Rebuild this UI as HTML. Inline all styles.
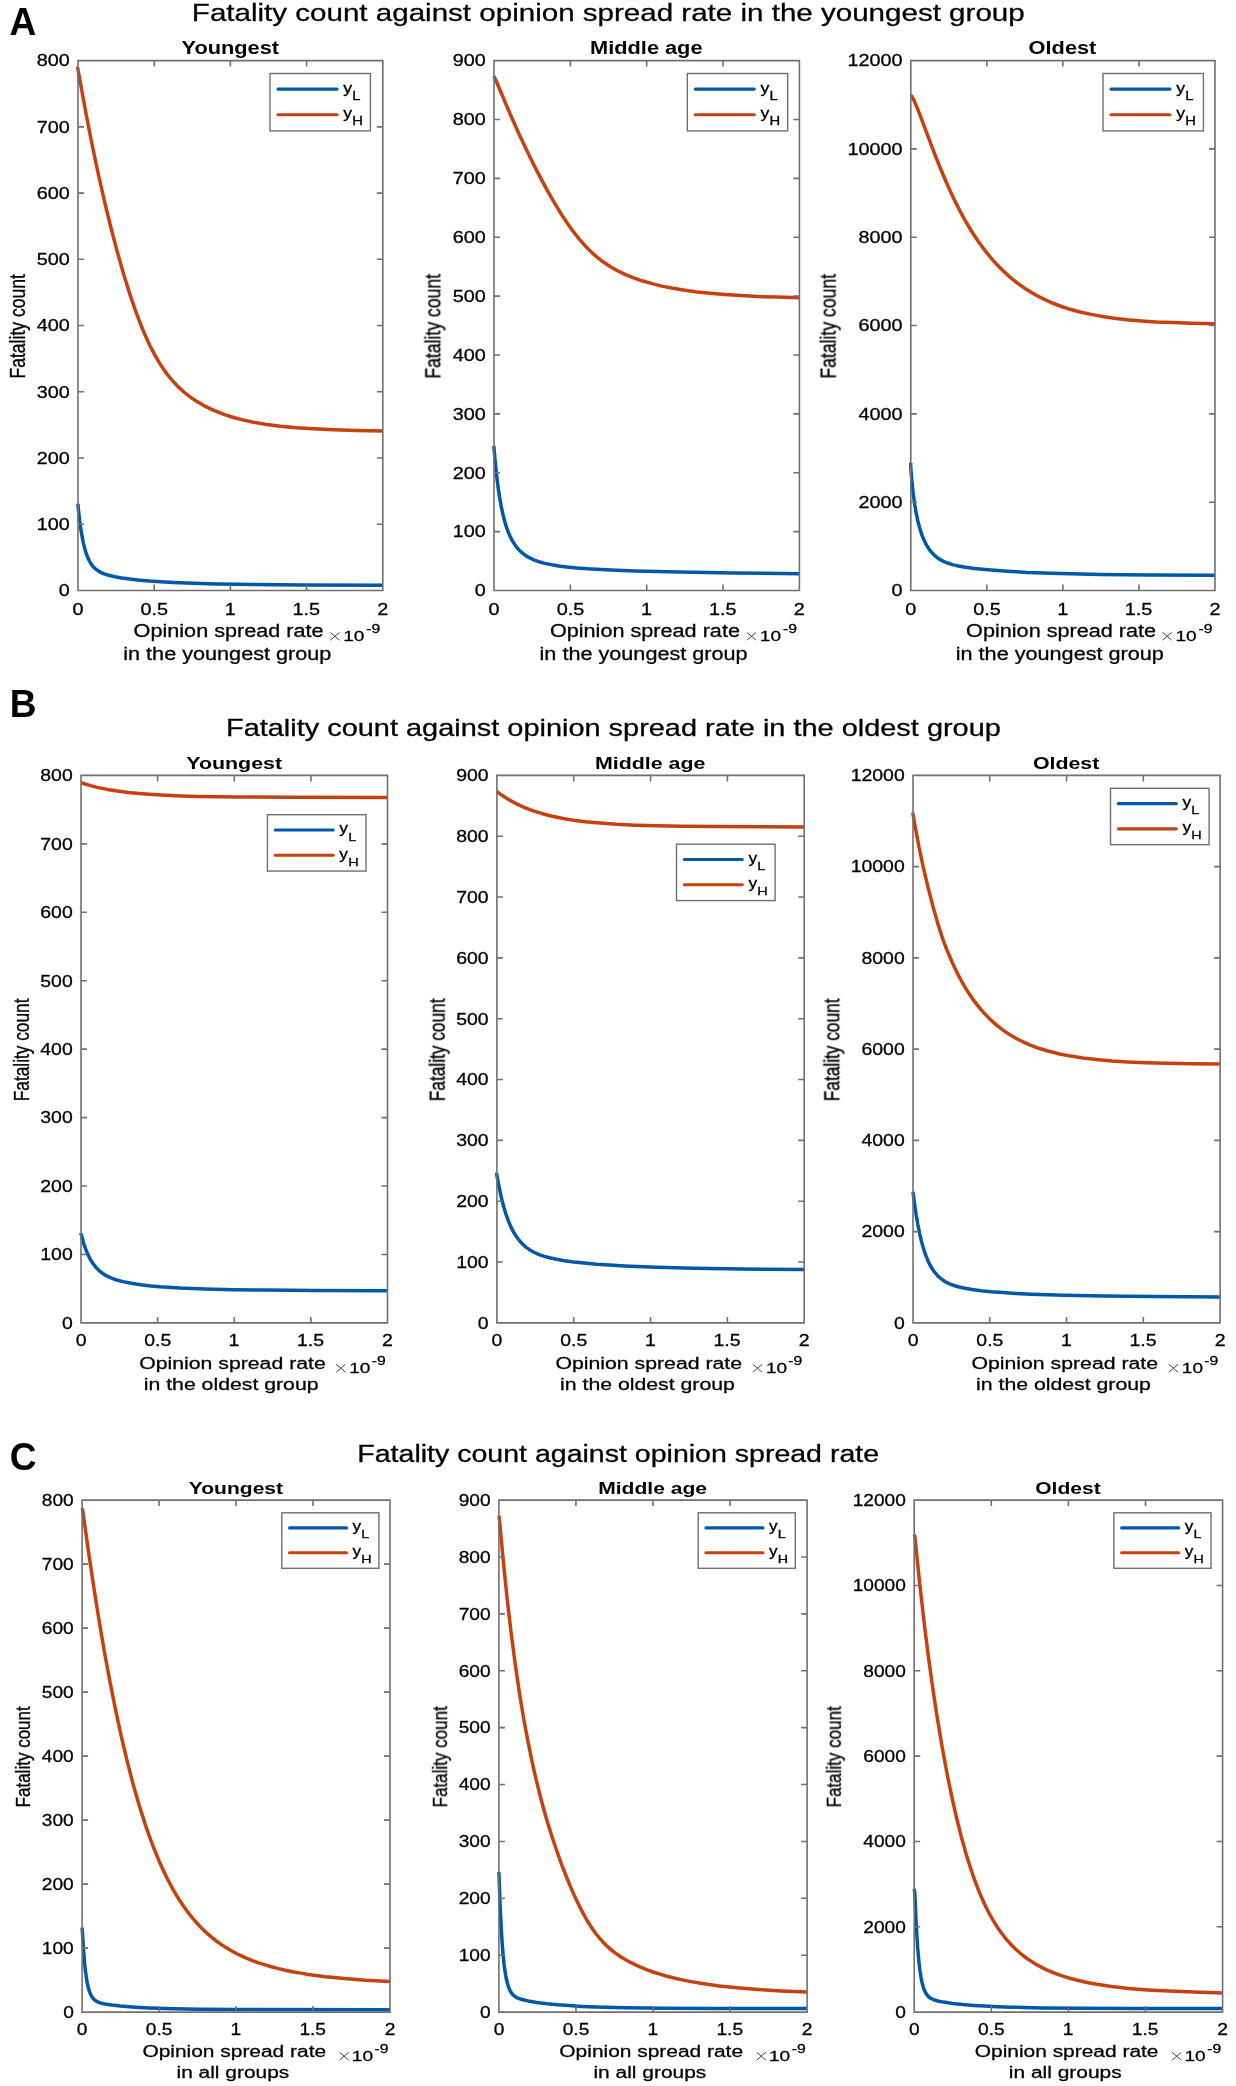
<!DOCTYPE html>
<html><head><meta charset="utf-8"><style>html,body{margin:0;padding:0;background:#fff;overflow:hidden;width:1236px;height:2086px;}svg{display:block}text{font-family:"Liberation Sans",sans-serif;}</style></head>
<body><svg width="1236" height="2086" viewBox="0 0 1236 2086">
<rect width="1236" height="2086" fill="#fff"/>
<clipPath id="clipA1"><rect x="76.0" y="60.6" width="306.8" height="529.9"/></clipPath>
<g clip-path="url(#clipA1)" fill="none" stroke-width="3.5" stroke-linejoin="round">
<path stroke="#C4420F" d="M78.0,67.0 77.7,68.0 86.3,115.2 92.3,145.7 98.5,175.0 104.5,201.4 110.5,226.0 117.5,252.6 123.5,273.7 129.5,293.1 135.5,310.7 140.5,324.0 143.5,331.3 146.5,338.2 149.5,344.7 152.5,350.6 155.5,356.2 158.5,361.4 161.5,366.1 164.5,370.6 167.5,374.6 170.5,378.4 173.5,381.8 177.5,386.1 180.5,388.9 184.5,392.5 188.5,395.7 192.5,398.6 196.5,401.2 200.5,403.6 204.5,405.9 209.5,408.4 214.5,410.7 219.5,412.7 224.5,414.6 230.5,416.5 235.5,418.0 241.5,419.6 253.5,422.2 266.5,424.4 280.5,426.2 296.5,427.7 313.5,428.8 333.5,429.7 356.5,430.4 382.8,430.9"/>
<path stroke="#0058A8" d="M78.0,503.8 78.0,505.9 79.6,520.2 80.8,528.9 82.2,537.2 83.4,543.1 84.8,548.7 86.4,553.9 88.0,558.1 89.8,561.7 91.6,564.6 93.8,567.3 95.8,569.2 98.8,571.4 101.8,572.9 104.8,574.1 108.8,575.3 114.8,576.7 121.8,578.0 129.8,579.1 139.8,580.2 149.8,581.1 160.8,581.8 172.8,582.5 186.8,583.1 215.8,583.9 252.8,584.4 302.8,584.9 382.8,585.3"/>
</g>
<path d="M78.0,60.6 H382.8 V590.5 H78.0 Z M78.0,590.50 h6.0 M382.8,590.50 h-6.0 M78.0,524.26 h6.0 M382.8,524.26 h-6.0 M78.0,458.02 h6.0 M382.8,458.02 h-6.0 M78.0,391.79 h6.0 M382.8,391.79 h-6.0 M78.0,325.55 h6.0 M382.8,325.55 h-6.0 M78.0,259.31 h6.0 M382.8,259.31 h-6.0 M78.0,193.08 h6.0 M382.8,193.08 h-6.0 M78.0,126.84 h6.0 M382.8,126.84 h-6.0 M78.0,60.60 h6.0 M382.8,60.60 h-6.0 M78.00,590.5 v-6.0 M78.00,60.6 v6.0 M154.20,590.5 v-6.0 M154.20,60.6 v6.0 M230.40,590.5 v-6.0 M230.40,60.6 v6.0 M306.60,590.5 v-6.0 M306.60,60.6 v6.0 M382.80,590.5 v-6.0 M382.80,60.6 v6.0" fill="none" stroke="#707070" stroke-width="1.6"/>
<path d="M330.3,632.4 l9.2,7.8 M339.5,632.4 l-9.2,7.8" stroke="#444" stroke-width="1.0" fill="none"/>
<rect x="270" y="73.5" width="100.40" height="57.40" fill="#fff" stroke="#707070" stroke-width="1.4"/>
<path d="M278.00,89.10 H337.00" stroke="#0058A8" stroke-width="3.1" stroke-linecap="round"/>
<path d="M278.00,114.80 H337.00" stroke="#C4420F" stroke-width="3.1" stroke-linecap="round"/>
<clipPath id="clipA2"><rect x="492.0" y="60.6" width="307.4" height="529.9"/></clipPath>
<g clip-path="url(#clipA2)" fill="none" stroke-width="3.5" stroke-linejoin="round">
<path stroke="#C4420F" d="M494.0,76.2 496.4,81.5 506.0,104.3 512.0,118.3 518.0,131.7 525.0,146.8 533.0,163.2 540.0,176.9 547.0,189.9 554.0,202.2 561.0,213.7 567.0,222.8 573.0,231.2 579.0,238.8 585.0,245.7 591.0,251.7 597.0,257.1 603.0,261.8 610.0,266.5 617.0,270.5 625.0,274.4 633.0,277.7 642.0,280.8 652.0,283.6 662.0,286.1 673.0,288.3 685.0,290.3 697.0,291.9 710.0,293.3 725.0,294.6 741.0,295.6 758.0,296.5 777.0,297.1 799.4,297.7"/>
<path stroke="#0058A8" d="M494.0,446.0 494.0,448.5 494.2,450.9 496.0,469.9 497.6,483.6 499.2,494.9 501.0,505.3 502.8,513.9 504.8,521.7 507.0,528.7 508.8,533.4 509.8,535.7 511.8,539.8 514.8,544.7 517.8,548.6 520.8,551.7 522.8,553.4 524.8,554.9 528.8,557.4 533.8,559.8 538.8,561.7 544.8,563.4 551.8,564.8 558.8,566.0 566.8,567.0 576.8,567.9 587.8,568.8 600.8,569.5 616.8,570.3 634.8,570.9 679.8,572.1 733.8,573.0 799.4,573.7"/>
</g>
<path d="M494.0,60.6 H799.4 V590.5 H494.0 Z M494.0,590.50 h6.0 M799.4,590.50 h-6.0 M494.0,531.62 h6.0 M799.4,531.62 h-6.0 M494.0,472.74 h6.0 M799.4,472.74 h-6.0 M494.0,413.87 h6.0 M799.4,413.87 h-6.0 M494.0,354.99 h6.0 M799.4,354.99 h-6.0 M494.0,296.11 h6.0 M799.4,296.11 h-6.0 M494.0,237.23 h6.0 M799.4,237.23 h-6.0 M494.0,178.36 h6.0 M799.4,178.36 h-6.0 M494.0,119.48 h6.0 M799.4,119.48 h-6.0 M494.0,60.60 h6.0 M799.4,60.60 h-6.0 M494.00,590.5 v-6.0 M494.00,60.6 v6.0 M570.35,590.5 v-6.0 M570.35,60.6 v6.0 M646.70,590.5 v-6.0 M646.70,60.6 v6.0 M723.05,590.5 v-6.0 M723.05,60.6 v6.0 M799.40,590.5 v-6.0 M799.40,60.6 v6.0" fill="none" stroke="#707070" stroke-width="1.6"/>
<path d="M746.9,632.4 l9.2,7.8 M756.1,632.4 l-9.2,7.8" stroke="#444" stroke-width="1.0" fill="none"/>
<rect x="687.3" y="73.5" width="100.40" height="57.40" fill="#fff" stroke="#707070" stroke-width="1.4"/>
<path d="M695.30,89.10 H754.30" stroke="#0058A8" stroke-width="3.1" stroke-linecap="round"/>
<path d="M695.30,114.80 H754.30" stroke="#C4420F" stroke-width="3.1" stroke-linecap="round"/>
<clipPath id="clipA3"><rect x="908.8" y="60.6" width="306.20000000000005" height="529.9"/></clipPath>
<g clip-path="url(#clipA3)" fill="none" stroke-width="3.5" stroke-linejoin="round">
<path stroke="#C4420F" d="M910.8,95.5 911.3,95.7 911.5,95.9 912.9,98.3 914.7,102.0 916.9,107.2 920.9,117.4 931.1,144.6 936.1,157.6 941.1,170.0 946.1,181.8 951.1,193.0 955.1,201.4 960.1,211.2 965.1,220.4 971.1,230.5 977.1,239.7 983.1,248.1 990.1,256.9 997.1,264.8 1004.1,271.8 1011.1,278.1 1018.1,283.6 1026.1,289.2 1034.1,294.1 1042.1,298.3 1051.1,302.5 1060.1,306.0 1070.1,309.3 1080.1,312.0 1091.1,314.4 1102.1,316.4 1114.1,318.2 1127.1,319.7 1141.1,320.9 1156.1,321.9 1173.1,322.6 1192.1,323.2 1215.0,323.7"/>
<path stroke="#0058A8" d="M910.8,462.9 910.6,465.7 911.8,480.2 913.2,493.4 914.8,505.1 916.4,514.2 918.0,521.7 919.8,528.4 921.8,534.6 924.0,540.0 926.4,544.9 929.4,549.6 932.4,553.3 935.4,556.2 937.4,557.7 939.4,559.1 943.4,561.3 947.4,563.0 952.4,564.6 958.4,566.0 965.4,567.3 974.4,568.5 985.4,569.6 997.4,570.6 1011.4,571.5 1027.4,572.4 1060.4,573.5 1100.4,574.4 1149.4,574.9 1215.0,575.2"/>
</g>
<path d="M910.8,60.6 H1215.0 V590.5 H910.8 Z M910.8,590.50 h6.0 M1215.0,590.50 h-6.0 M910.8,502.18 h6.0 M1215.0,502.18 h-6.0 M910.8,413.87 h6.0 M1215.0,413.87 h-6.0 M910.8,325.55 h6.0 M1215.0,325.55 h-6.0 M910.8,237.23 h6.0 M1215.0,237.23 h-6.0 M910.8,148.92 h6.0 M1215.0,148.92 h-6.0 M910.8,60.60 h6.0 M1215.0,60.60 h-6.0 M910.80,590.5 v-6.0 M910.80,60.6 v6.0 M986.85,590.5 v-6.0 M986.85,60.6 v6.0 M1062.90,590.5 v-6.0 M1062.90,60.6 v6.0 M1138.95,590.5 v-6.0 M1138.95,60.6 v6.0 M1215.00,590.5 v-6.0 M1215.00,60.6 v6.0" fill="none" stroke="#707070" stroke-width="1.6"/>
<path d="M1162.5,632.4 l9.2,7.8 M1171.7,632.4 l-9.2,7.8" stroke="#444" stroke-width="1.0" fill="none"/>
<rect x="1103" y="73.5" width="100.40" height="57.40" fill="#fff" stroke="#707070" stroke-width="1.4"/>
<path d="M1111.00,89.10 H1170.00" stroke="#0058A8" stroke-width="3.1" stroke-linecap="round"/>
<path d="M1111.00,114.80 H1170.00" stroke="#C4420F" stroke-width="3.1" stroke-linecap="round"/>
<clipPath id="clipB1"><rect x="79.0" y="775.4" width="308.5" height="547.5000000000001"/></clipPath>
<g clip-path="url(#clipB1)" fill="none" stroke-width="3.5" stroke-linejoin="round">
<path stroke="#C4420F" d="M81.0,782.9 81.6,783.0 90.6,785.6 98.4,787.6 107.4,789.4 117.4,791.0 128.4,792.4 139.4,793.5 152.4,794.5 166.4,795.3 181.4,795.9 197.4,796.4 237.4,797.0 292.4,797.3 387.5,797.4"/>
<path stroke="#0058A8" d="M81.0,1232.9 81.0,1233.7 81.4,1235.3 83.6,1243.1 85.6,1248.9 87.6,1253.8 89.6,1258.0 91.8,1261.8 94.2,1265.2 96.8,1268.3 99.8,1271.2 102.8,1273.5 105.8,1275.4 109.8,1277.4 113.8,1279.0 117.8,1280.3 122.8,1281.6 128.8,1282.8 135.8,1284.0 142.8,1285.0 150.8,1285.9 159.8,1286.7 179.8,1288.0 204.8,1289.0 232.8,1289.7 267.8,1290.1 314.8,1290.4 387.5,1290.7"/>
</g>
<path d="M81.0,775.4 H387.5 V1322.9 H81.0 Z M81.0,1322.90 h6.0 M387.5,1322.90 h-6.0 M81.0,1254.46 h6.0 M387.5,1254.46 h-6.0 M81.0,1186.03 h6.0 M387.5,1186.03 h-6.0 M81.0,1117.59 h6.0 M387.5,1117.59 h-6.0 M81.0,1049.15 h6.0 M387.5,1049.15 h-6.0 M81.0,980.71 h6.0 M387.5,980.71 h-6.0 M81.0,912.27 h6.0 M387.5,912.27 h-6.0 M81.0,843.84 h6.0 M387.5,843.84 h-6.0 M81.0,775.40 h6.0 M387.5,775.40 h-6.0 M81.00,1322.9 v-6.0 M81.00,775.4 v6.0 M157.62,1322.9 v-6.0 M157.62,775.4 v6.0 M234.25,1322.9 v-6.0 M234.25,775.4 v6.0 M310.88,1322.9 v-6.0 M310.88,775.4 v6.0 M387.50,1322.9 v-6.0 M387.50,775.4 v6.0" fill="none" stroke="#707070" stroke-width="1.6"/>
<path d="M336.2,1364.4 l9.2,7.8 M345.4,1364.4 l-9.2,7.8" stroke="#444" stroke-width="1.0" fill="none"/>
<rect x="267.4" y="814.7" width="98.59" height="56.37" fill="#fff" stroke="#707070" stroke-width="1.4"/>
<path d="M275.26,830.02 H333.19" stroke="#0058A8" stroke-width="3.1" stroke-linecap="round"/>
<path d="M275.26,855.26 H333.19" stroke="#C4420F" stroke-width="3.1" stroke-linecap="round"/>
<clipPath id="clipB2"><rect x="494.9" y="775.4" width="309.30000000000007" height="547.5000000000001"/></clipPath>
<g clip-path="url(#clipB2)" fill="none" stroke-width="3.5" stroke-linejoin="round">
<path stroke="#C4420F" d="M496.9,791.8 497.4,792.0 502.0,795.3 506.6,798.2 510.8,800.7 515.2,803.1 519.2,805.1 524.2,807.3 529.2,809.3 534.2,811.1 539.2,812.7 545.2,814.5 551.2,816.0 557.2,817.3 563.2,818.5 570.2,819.7 577.2,820.7 585.2,821.7 600.2,823.1 616.2,824.3 635.2,825.2 657.2,825.8 682.2,826.3 713.2,826.6 804.2,826.9"/>
<path stroke="#0058A8" d="M496.9,1172.9 496.7,1174.1 499.1,1187.2 501.3,1197.4 503.7,1206.7 505.9,1214.0 508.3,1220.7 510.9,1226.9 513.5,1232.0 516.5,1236.8 519.5,1240.8 522.5,1244.1 525.5,1246.8 529.5,1249.7 533.5,1252.0 538.5,1254.3 543.5,1256.1 549.5,1257.8 556.5,1259.3 564.5,1260.7 573.5,1261.9 584.5,1263.1 596.5,1264.2 609.5,1265.1 624.5,1266.0 656.5,1267.3 694.5,1268.3 741.5,1269.0 804.2,1269.5"/>
</g>
<path d="M496.9,775.4 H804.2 V1322.9 H496.9 Z M496.9,1322.90 h6.0 M804.2,1322.90 h-6.0 M496.9,1262.07 h6.0 M804.2,1262.07 h-6.0 M496.9,1201.23 h6.0 M804.2,1201.23 h-6.0 M496.9,1140.40 h6.0 M804.2,1140.40 h-6.0 M496.9,1079.57 h6.0 M804.2,1079.57 h-6.0 M496.9,1018.73 h6.0 M804.2,1018.73 h-6.0 M496.9,957.90 h6.0 M804.2,957.90 h-6.0 M496.9,897.07 h6.0 M804.2,897.07 h-6.0 M496.9,836.23 h6.0 M804.2,836.23 h-6.0 M496.9,775.40 h6.0 M804.2,775.40 h-6.0 M496.90,1322.9 v-6.0 M496.90,775.4 v6.0 M573.73,1322.9 v-6.0 M573.73,775.4 v6.0 M650.55,1322.9 v-6.0 M650.55,775.4 v6.0 M727.38,1322.9 v-6.0 M727.38,775.4 v6.0 M804.20,1322.9 v-6.0 M804.20,775.4 v6.0" fill="none" stroke="#707070" stroke-width="1.6"/>
<path d="M752.9,1364.4 l9.2,7.8 M762.1,1364.4 l-9.2,7.8" stroke="#444" stroke-width="1.0" fill="none"/>
<rect x="676.5" y="844.2" width="98.59" height="56.37" fill="#fff" stroke="#707070" stroke-width="1.4"/>
<path d="M684.36,859.52 H742.29" stroke="#0058A8" stroke-width="3.1" stroke-linecap="round"/>
<path d="M684.36,884.76 H742.29" stroke="#C4420F" stroke-width="3.1" stroke-linecap="round"/>
<clipPath id="clipB3"><rect x="911.0" y="775.4" width="309.0999999999999" height="547.5000000000001"/></clipPath>
<g clip-path="url(#clipB3)" fill="none" stroke-width="3.5" stroke-linejoin="round">
<path stroke="#C4420F" d="M913.0,812.7 913.0,814.0 914.6,823.6 919.0,847.0 923.2,866.8 927.8,886.3 932.8,905.8 937.8,923.6 941.8,936.1 943.8,941.8 946.8,949.6 951.8,961.5 954.8,968.0 957.8,974.1 960.8,979.8 963.8,985.1 966.8,990.1 969.8,994.7 972.8,999.1 975.8,1003.1 978.8,1007.0 982.8,1011.7 985.8,1014.9 989.8,1019.0 993.8,1022.7 997.8,1026.1 1004.8,1031.4 1008.8,1034.1 1012.8,1036.5 1016.8,1038.8 1020.8,1040.8 1024.8,1042.7 1029.8,1044.9 1038.8,1048.3 1048.8,1051.3 1059.8,1054.0 1070.8,1056.1 1082.8,1058.0 1096.8,1059.6 1111.8,1060.9 1127.8,1061.9 1145.8,1062.7 1166.8,1063.3 1190.8,1063.7 1220.1,1064.0"/>
<path stroke="#0058A8" d="M913.0,1191.7 914.6,1204.2 916.2,1215.0 917.8,1224.3 919.6,1233.3 921.4,1241.1 923.4,1248.3 925.6,1254.9 927.8,1260.4 930.0,1265.0 933.0,1270.0 935.0,1272.7 938.0,1276.1 941.0,1278.7 943.0,1280.2 945.0,1281.5 949.0,1283.6 954.0,1285.5 959.0,1287.0 965.0,1288.3 972.0,1289.5 981.0,1290.7 991.0,1291.7 1003.0,1292.6 1016.0,1293.4 1031.0,1294.2 1064.0,1295.3 1104.0,1296.0 1154.0,1296.6 1220.1,1296.9"/>
</g>
<path d="M913.0,775.4 H1220.1 V1322.9 H913.0 Z M913.0,1322.90 h6.0 M1220.1,1322.90 h-6.0 M913.0,1231.65 h6.0 M1220.1,1231.65 h-6.0 M913.0,1140.40 h6.0 M1220.1,1140.40 h-6.0 M913.0,1049.15 h6.0 M1220.1,1049.15 h-6.0 M913.0,957.90 h6.0 M1220.1,957.90 h-6.0 M913.0,866.65 h6.0 M1220.1,866.65 h-6.0 M913.0,775.40 h6.0 M1220.1,775.40 h-6.0 M913.00,1322.9 v-6.0 M913.00,775.4 v6.0 M989.77,1322.9 v-6.0 M989.77,775.4 v6.0 M1066.55,1322.9 v-6.0 M1066.55,775.4 v6.0 M1143.32,1322.9 v-6.0 M1143.32,775.4 v6.0 M1220.10,1322.9 v-6.0 M1220.10,775.4 v6.0" fill="none" stroke="#707070" stroke-width="1.6"/>
<path d="M1168.8,1364.4 l9.2,7.8 M1178.0,1364.4 l-9.2,7.8" stroke="#444" stroke-width="1.0" fill="none"/>
<rect x="1110.5" y="788.3" width="98.59" height="56.37" fill="#fff" stroke="#707070" stroke-width="1.4"/>
<path d="M1118.36,803.62 H1176.29" stroke="#0058A8" stroke-width="3.1" stroke-linecap="round"/>
<path d="M1118.36,828.86 H1176.29" stroke="#C4420F" stroke-width="3.1" stroke-linecap="round"/>
<clipPath id="clipC1"><rect x="80.1" y="1500.1" width="309.9" height="512.0"/></clipPath>
<g clip-path="url(#clipC1)" fill="none" stroke-width="3.5" stroke-linejoin="round">
<path stroke="#C4420F" d="M82.1,1508.2 82.6,1509.7 88.6,1552.6 94.4,1591.3 99.4,1622.5 104.4,1651.7 109.4,1678.9 115.4,1709.2 121.4,1736.9 127.4,1762.2 133.4,1785.3 139.4,1806.1 145.4,1824.9 148.4,1833.6 152.4,1844.5 158.4,1859.4 161.4,1866.3 165.4,1874.8 168.4,1880.8 172.4,1888.3 176.4,1895.2 180.4,1901.6 183.4,1906.0 187.4,1911.6 191.4,1916.7 195.4,1921.5 199.4,1925.8 203.4,1929.9 207.4,1933.6 212.4,1937.9 216.4,1941.0 221.4,1944.6 226.4,1947.8 231.4,1950.8 236.4,1953.5 241.4,1955.9 246.4,1958.2 252.4,1960.6 258.4,1962.8 264.4,1964.7 271.4,1966.8 278.4,1968.6 285.4,1970.2 292.4,1971.7 300.4,1973.1 308.4,1974.4 325.4,1976.7 344.4,1978.6 365.4,1980.2 390.0,1981.5"/>
<path stroke="#0058A8" d="M82.1,1927.6 83.6,1950.9 84.8,1965.0 85.6,1972.1 86.4,1977.9 87.2,1982.6 88.2,1987.2 89.2,1990.7 90.4,1993.9 91.6,1996.3 93.0,1998.3 94.6,2000.0 96.4,2001.2 98.2,2002.1 101.2,2003.2 106.2,2004.2 112.2,2005.1 120.2,2006.0 129.2,2006.8 139.2,2007.5 149.2,2008.0 173.2,2008.8 200.2,2009.2 237.2,2009.5 390.0,2009.8"/>
</g>
<path d="M82.1,1500.1 H390.0 V2012.1 H82.1 Z M82.1,2012.10 h6.0 M390.0,2012.10 h-6.0 M82.1,1948.10 h6.0 M390.0,1948.10 h-6.0 M82.1,1884.10 h6.0 M390.0,1884.10 h-6.0 M82.1,1820.10 h6.0 M390.0,1820.10 h-6.0 M82.1,1756.10 h6.0 M390.0,1756.10 h-6.0 M82.1,1692.10 h6.0 M390.0,1692.10 h-6.0 M82.1,1628.10 h6.0 M390.0,1628.10 h-6.0 M82.1,1564.10 h6.0 M390.0,1564.10 h-6.0 M82.1,1500.10 h6.0 M390.0,1500.10 h-6.0 M82.10,2012.1 v-6.0 M82.10,1500.1 v6.0 M159.07,2012.1 v-6.0 M159.07,1500.1 v6.0 M236.05,2012.1 v-6.0 M236.05,1500.1 v6.0 M313.02,2012.1 v-6.0 M313.02,1500.1 v6.0 M390.00,2012.1 v-6.0 M390.00,1500.1 v6.0" fill="none" stroke="#707070" stroke-width="1.6"/>
<path d="M339.5,2052.3 l9.2,7.8 M348.7,2052.3 l-9.2,7.8" stroke="#444" stroke-width="1.0" fill="none"/>
<rect x="281.8" y="1512.8" width="97.09" height="55.51" fill="#fff" stroke="#707070" stroke-width="1.4"/>
<path d="M289.54,1527.89 H346.59" stroke="#0058A8" stroke-width="3.1" stroke-linecap="round"/>
<path d="M289.54,1552.74 H346.59" stroke="#C4420F" stroke-width="3.1" stroke-linecap="round"/>
<clipPath id="clipC2"><rect x="496.9" y="1500.1" width="310.20000000000005" height="512.0"/></clipPath>
<g clip-path="url(#clipC2)" fill="none" stroke-width="3.5" stroke-linejoin="round">
<path stroke="#C4420F" d="M498.9,1515.5 499.3,1517.8 503.1,1559.4 507.1,1598.2 511.1,1632.6 515.1,1663.3 519.1,1690.7 521.1,1703.3 524.1,1720.9 528.1,1742.4 533.1,1766.4 536.1,1779.4 539.1,1791.7 542.1,1803.2 545.1,1814.0 548.1,1824.2 552.1,1837.0 555.1,1846.0 559.1,1857.5 563.1,1868.3 567.1,1878.5 571.1,1888.2 575.1,1897.2 579.1,1905.6 583.1,1913.4 587.1,1920.5 590.1,1925.3 593.1,1929.8 596.1,1934.0 599.1,1937.7 603.1,1942.2 606.1,1945.3 610.1,1948.9 613.1,1951.4 617.1,1954.3 621.1,1957.0 626.1,1960.0 631.1,1962.7 636.1,1965.1 641.1,1967.4 647.1,1969.8 653.1,1972.0 660.1,1974.2 666.1,1976.0 673.1,1977.8 680.1,1979.4 687.1,1980.9 702.1,1983.5 719.1,1985.9 737.1,1987.8 758.1,1989.5 781.1,1990.9 807.1,1992.1"/>
<path stroke="#0058A8" d="M498.9,1871.9 500.1,1905.4 501.5,1933.2 502.3,1945.1 503.1,1954.8 504.1,1964.4 505.1,1971.9 506.1,1977.7 507.3,1983.0 508.5,1986.9 509.9,1990.3 511.5,1993.0 513.3,1995.1 514.9,1996.4 515.9,1997.1 517.9,1998.1 521.9,1999.5 527.9,2000.9 536.9,2002.4 546.9,2003.7 557.9,2004.8 568.9,2005.6 581.9,2006.4 595.9,2007.0 625.9,2007.7 663.9,2008.2 716.9,2008.4 807.1,2008.5"/>
</g>
<path d="M498.9,1500.1 H807.1 V2012.1 H498.9 Z M498.9,2012.10 h6.0 M807.1,2012.10 h-6.0 M498.9,1955.21 h6.0 M807.1,1955.21 h-6.0 M498.9,1898.32 h6.0 M807.1,1898.32 h-6.0 M498.9,1841.43 h6.0 M807.1,1841.43 h-6.0 M498.9,1784.54 h6.0 M807.1,1784.54 h-6.0 M498.9,1727.66 h6.0 M807.1,1727.66 h-6.0 M498.9,1670.77 h6.0 M807.1,1670.77 h-6.0 M498.9,1613.88 h6.0 M807.1,1613.88 h-6.0 M498.9,1556.99 h6.0 M807.1,1556.99 h-6.0 M498.9,1500.10 h6.0 M807.1,1500.10 h-6.0 M498.90,2012.1 v-6.0 M498.90,1500.1 v6.0 M575.95,2012.1 v-6.0 M575.95,1500.1 v6.0 M653.00,2012.1 v-6.0 M653.00,1500.1 v6.0 M730.05,2012.1 v-6.0 M730.05,1500.1 v6.0 M807.10,2012.1 v-6.0 M807.10,1500.1 v6.0" fill="none" stroke="#707070" stroke-width="1.6"/>
<path d="M756.6,2052.3 l9.2,7.8 M765.8,2052.3 l-9.2,7.8" stroke="#444" stroke-width="1.0" fill="none"/>
<rect x="698.2" y="1512.8" width="97.09" height="55.51" fill="#fff" stroke="#707070" stroke-width="1.4"/>
<path d="M705.94,1527.89 H762.99" stroke="#0058A8" stroke-width="3.1" stroke-linecap="round"/>
<path d="M705.94,1552.74 H762.99" stroke="#C4420F" stroke-width="3.1" stroke-linecap="round"/>
<clipPath id="clipC3"><rect x="912.2" y="1500.1" width="310.39999999999986" height="512.0"/></clipPath>
<g clip-path="url(#clipC3)" fill="none" stroke-width="3.5" stroke-linejoin="round">
<path stroke="#C4420F" d="M914.2,1534.5 914.9,1536.6 919.5,1581.8 924.5,1625.6 928.5,1657.3 932.7,1687.7 936.7,1714.3 941.7,1744.5 946.7,1771.8 951.7,1796.4 956.7,1818.5 961.7,1838.3 966.7,1855.9 969.7,1865.6 972.7,1874.6 975.7,1882.9 978.7,1890.6 981.7,1897.8 984.7,1904.4 987.7,1910.5 990.7,1916.2 993.7,1921.4 997.7,1927.7 1000.7,1932.0 1004.7,1937.3 1007.7,1940.9 1011.7,1945.2 1015.7,1949.2 1019.7,1952.8 1023.7,1956.0 1027.7,1959.0 1031.7,1961.6 1036.7,1964.7 1041.7,1967.4 1046.7,1969.8 1051.7,1972.0 1057.7,1974.3 1063.7,1976.4 1069.7,1978.2 1075.7,1979.8 1082.7,1981.5 1089.7,1983.0 1096.7,1984.3 1111.7,1986.5 1128.7,1988.4 1147.7,1989.9 1168.7,1991.1 1193.7,1992.1 1222.6,1992.9"/>
<path stroke="#0058A8" d="M914.2,1888.7 914.9,1894.3 916.3,1926.1 917.7,1948.2 919.1,1963.6 919.9,1970.2 920.9,1976.8 921.9,1981.9 923.1,1986.5 924.3,1990.0 925.7,1993.0 927.3,1995.3 929.1,1997.2 930.7,1998.3 933.7,1999.8 937.7,2001.0 943.7,2002.1 952.7,2003.4 962.7,2004.5 973.7,2005.4 984.7,2006.1 997.7,2006.7 1011.7,2007.2 1041.7,2007.9 1080.7,2008.3 1133.7,2008.5 1222.6,2008.6"/>
</g>
<path d="M914.2,1500.1 H1222.6 V2012.1 H914.2 Z M914.2,2012.10 h6.0 M1222.6,2012.10 h-6.0 M914.2,1926.77 h6.0 M1222.6,1926.77 h-6.0 M914.2,1841.43 h6.0 M1222.6,1841.43 h-6.0 M914.2,1756.10 h6.0 M1222.6,1756.10 h-6.0 M914.2,1670.77 h6.0 M1222.6,1670.77 h-6.0 M914.2,1585.43 h6.0 M1222.6,1585.43 h-6.0 M914.2,1500.10 h6.0 M1222.6,1500.10 h-6.0 M914.20,2012.1 v-6.0 M914.20,1500.1 v6.0 M991.30,2012.1 v-6.0 M991.30,1500.1 v6.0 M1068.40,2012.1 v-6.0 M1068.40,1500.1 v6.0 M1145.50,2012.1 v-6.0 M1145.50,1500.1 v6.0 M1222.60,2012.1 v-6.0 M1222.60,1500.1 v6.0" fill="none" stroke="#707070" stroke-width="1.6"/>
<path d="M1172.1,2052.3 l9.2,7.8 M1181.3,2052.3 l-9.2,7.8" stroke="#444" stroke-width="1.0" fill="none"/>
<rect x="1113.9" y="1512.8" width="97.09" height="55.51" fill="#fff" stroke="#707070" stroke-width="1.4"/>
<path d="M1121.64,1527.89 H1178.69" stroke="#0058A8" stroke-width="3.1" stroke-linecap="round"/>
<path d="M1121.64,1552.74 H1178.69" stroke="#C4420F" stroke-width="3.1" stroke-linecap="round"/>
<g style="will-change:transform">
<text transform="translate(191.83,21.00) scale(1.2219,1)" font-size="24.2" fill="#000" stroke="#000" stroke-width="0.28">Fatality count against opinion spread rate in the youngest group</text>
<text transform="translate(9.46,34.70) scale(0.97,1)" font-size="38.3" font-weight="bold" fill="#000">A</text>
<text transform="translate(58.70,596.30) scale(1.23,1)" font-size="16.1" fill="#000" stroke="#000" stroke-width="0.28">0</text>
<text transform="translate(36.68,530.06) scale(1.23,1)" font-size="16.1" fill="#000" stroke="#000" stroke-width="0.28">100</text>
<text transform="translate(36.68,463.82) scale(1.23,1)" font-size="16.1" fill="#000" stroke="#000" stroke-width="0.28">200</text>
<text transform="translate(36.68,397.59) scale(1.23,1)" font-size="16.1" fill="#000" stroke="#000" stroke-width="0.28">300</text>
<text transform="translate(36.68,331.35) scale(1.23,1)" font-size="16.1" fill="#000" stroke="#000" stroke-width="0.28">400</text>
<text transform="translate(36.68,265.11) scale(1.23,1)" font-size="16.1" fill="#000" stroke="#000" stroke-width="0.28">500</text>
<text transform="translate(36.68,198.88) scale(1.23,1)" font-size="16.1" fill="#000" stroke="#000" stroke-width="0.28">600</text>
<text transform="translate(36.68,132.64) scale(1.23,1)" font-size="16.1" fill="#000" stroke="#000" stroke-width="0.28">700</text>
<text transform="translate(36.68,66.40) scale(1.23,1)" font-size="16.1" fill="#000" stroke="#000" stroke-width="0.28">800</text>
<text transform="translate(72.55,614.90) scale(1.23,1)" font-size="16.1" fill="#000" stroke="#000" stroke-width="0.28">0</text>
<text transform="translate(140.50,614.90) scale(1.23,1)" font-size="16.1" fill="#000" stroke="#000" stroke-width="0.28">0.5</text>
<text transform="translate(224.66,614.90) scale(1.23,1)" font-size="16.1" fill="#000" stroke="#000" stroke-width="0.28">1</text>
<text transform="translate(292.50,614.90) scale(1.23,1)" font-size="16.1" fill="#000" stroke="#000" stroke-width="0.28">1.5</text>
<text transform="translate(377.26,614.90) scale(1.23,1)" font-size="16.1" fill="#000" stroke="#000" stroke-width="0.28">2</text>
<text transform="translate(181.54,54.40) scale(1.23,1)" font-size="17.7" font-weight="bold" fill="#000">Youngest</text>
<text transform="translate(133.59,637.10) scale(1.23,1)" font-size="17.6" fill="#000" stroke="#000" stroke-width="0.28">Opinion spread rate</text>
<text transform="translate(123.23,659.60) scale(1.23,1)" font-size="17.6" fill="#000" stroke="#000" stroke-width="0.28">in the youngest group</text>
<text transform="translate(24.50,378.61) scale(1.23,1) rotate(-90)" font-size="17.6" fill="#000" stroke="#000" stroke-width="0.28">Fatality count</text>
<text transform="translate(343.27,641.00) scale(1.23,1)" font-size="15.5" fill="#000" stroke="#000" stroke-width="0.28">10</text>
<text transform="translate(366.37,633.40) scale(1.23,1)" font-size="12.8" fill="#000" stroke="#000" stroke-width="0.28">-9</text>
<text transform="translate(343.20,92.50) scale(1.23,1)" font-size="14.4" fill="#000" stroke="#000" stroke-width="0.28">y</text>
<text transform="translate(352.22,99.80) scale(1.23,1)" font-size="12.0" fill="#000" stroke="#000" stroke-width="0.28">L</text>
<text transform="translate(343.20,118.40) scale(1.23,1)" font-size="14.4" fill="#000" stroke="#000" stroke-width="0.28">y</text>
<text transform="translate(352.22,125.40) scale(1.23,1)" font-size="12.0" fill="#000" stroke="#000" stroke-width="0.28">H</text>
<text transform="translate(474.70,596.30) scale(1.23,1)" font-size="16.1" fill="#000" stroke="#000" stroke-width="0.28">0</text>
<text transform="translate(452.68,537.42) scale(1.23,1)" font-size="16.1" fill="#000" stroke="#000" stroke-width="0.28">100</text>
<text transform="translate(452.68,478.54) scale(1.23,1)" font-size="16.1" fill="#000" stroke="#000" stroke-width="0.28">200</text>
<text transform="translate(452.68,419.67) scale(1.23,1)" font-size="16.1" fill="#000" stroke="#000" stroke-width="0.28">300</text>
<text transform="translate(452.68,360.79) scale(1.23,1)" font-size="16.1" fill="#000" stroke="#000" stroke-width="0.28">400</text>
<text transform="translate(452.68,301.91) scale(1.23,1)" font-size="16.1" fill="#000" stroke="#000" stroke-width="0.28">500</text>
<text transform="translate(452.68,243.03) scale(1.23,1)" font-size="16.1" fill="#000" stroke="#000" stroke-width="0.28">600</text>
<text transform="translate(452.68,184.16) scale(1.23,1)" font-size="16.1" fill="#000" stroke="#000" stroke-width="0.28">700</text>
<text transform="translate(452.68,125.28) scale(1.23,1)" font-size="16.1" fill="#000" stroke="#000" stroke-width="0.28">800</text>
<text transform="translate(452.68,66.40) scale(1.23,1)" font-size="16.1" fill="#000" stroke="#000" stroke-width="0.28">900</text>
<text transform="translate(488.55,614.90) scale(1.23,1)" font-size="16.1" fill="#000" stroke="#000" stroke-width="0.28">0</text>
<text transform="translate(556.65,614.90) scale(1.23,1)" font-size="16.1" fill="#000" stroke="#000" stroke-width="0.28">0.5</text>
<text transform="translate(640.96,614.90) scale(1.23,1)" font-size="16.1" fill="#000" stroke="#000" stroke-width="0.28">1</text>
<text transform="translate(708.95,614.90) scale(1.23,1)" font-size="16.1" fill="#000" stroke="#000" stroke-width="0.28">1.5</text>
<text transform="translate(793.86,614.90) scale(1.23,1)" font-size="16.1" fill="#000" stroke="#000" stroke-width="0.28">2</text>
<text transform="translate(590.08,54.40) scale(1.23,1)" font-size="17.7" font-weight="bold" fill="#000">Middle age</text>
<text transform="translate(549.89,637.10) scale(1.23,1)" font-size="17.6" fill="#000" stroke="#000" stroke-width="0.28">Opinion spread rate</text>
<text transform="translate(539.53,659.60) scale(1.23,1)" font-size="17.6" fill="#000" stroke="#000" stroke-width="0.28">in the youngest group</text>
<text transform="translate(440.50,378.61) scale(1.23,1) rotate(-90)" font-size="17.6" fill="#000" stroke="#000" stroke-width="0.28">Fatality count</text>
<text transform="translate(759.87,641.00) scale(1.23,1)" font-size="15.5" fill="#000" stroke="#000" stroke-width="0.28">10</text>
<text transform="translate(782.97,633.40) scale(1.23,1)" font-size="12.8" fill="#000" stroke="#000" stroke-width="0.28">-9</text>
<text transform="translate(760.50,92.50) scale(1.23,1)" font-size="14.4" fill="#000" stroke="#000" stroke-width="0.28">y</text>
<text transform="translate(769.52,99.80) scale(1.23,1)" font-size="12.0" fill="#000" stroke="#000" stroke-width="0.28">L</text>
<text transform="translate(760.50,118.40) scale(1.23,1)" font-size="14.4" fill="#000" stroke="#000" stroke-width="0.28">y</text>
<text transform="translate(769.52,125.40) scale(1.23,1)" font-size="12.0" fill="#000" stroke="#000" stroke-width="0.28">H</text>
<text transform="translate(891.50,596.30) scale(1.23,1)" font-size="16.1" fill="#000" stroke="#000" stroke-width="0.28">0</text>
<text transform="translate(858.46,507.98) scale(1.23,1)" font-size="16.1" fill="#000" stroke="#000" stroke-width="0.28">2000</text>
<text transform="translate(858.46,419.67) scale(1.23,1)" font-size="16.1" fill="#000" stroke="#000" stroke-width="0.28">4000</text>
<text transform="translate(858.46,331.35) scale(1.23,1)" font-size="16.1" fill="#000" stroke="#000" stroke-width="0.28">6000</text>
<text transform="translate(858.46,243.03) scale(1.23,1)" font-size="16.1" fill="#000" stroke="#000" stroke-width="0.28">8000</text>
<text transform="translate(847.45,154.72) scale(1.23,1)" font-size="16.1" fill="#000" stroke="#000" stroke-width="0.28">10000</text>
<text transform="translate(847.45,66.40) scale(1.23,1)" font-size="16.1" fill="#000" stroke="#000" stroke-width="0.28">12000</text>
<text transform="translate(905.35,614.90) scale(1.23,1)" font-size="16.1" fill="#000" stroke="#000" stroke-width="0.28">0</text>
<text transform="translate(973.15,614.90) scale(1.23,1)" font-size="16.1" fill="#000" stroke="#000" stroke-width="0.28">0.5</text>
<text transform="translate(1057.16,614.90) scale(1.23,1)" font-size="16.1" fill="#000" stroke="#000" stroke-width="0.28">1</text>
<text transform="translate(1124.85,614.90) scale(1.23,1)" font-size="16.1" fill="#000" stroke="#000" stroke-width="0.28">1.5</text>
<text transform="translate(1209.46,614.90) scale(1.23,1)" font-size="16.1" fill="#000" stroke="#000" stroke-width="0.28">2</text>
<text transform="translate(1028.62,54.40) scale(1.23,1)" font-size="17.7" font-weight="bold" fill="#000">Oldest</text>
<text transform="translate(966.09,637.10) scale(1.23,1)" font-size="17.6" fill="#000" stroke="#000" stroke-width="0.28">Opinion spread rate</text>
<text transform="translate(955.73,659.60) scale(1.23,1)" font-size="17.6" fill="#000" stroke="#000" stroke-width="0.28">in the youngest group</text>
<text transform="translate(835.80,378.61) scale(1.23,1) rotate(-90)" font-size="17.6" fill="#000" stroke="#000" stroke-width="0.28">Fatality count</text>
<text transform="translate(1175.47,641.00) scale(1.23,1)" font-size="15.5" fill="#000" stroke="#000" stroke-width="0.28">10</text>
<text transform="translate(1198.57,633.40) scale(1.23,1)" font-size="12.8" fill="#000" stroke="#000" stroke-width="0.28">-9</text>
<text transform="translate(1176.20,92.50) scale(1.23,1)" font-size="14.4" fill="#000" stroke="#000" stroke-width="0.28">y</text>
<text transform="translate(1185.22,99.80) scale(1.23,1)" font-size="12.0" fill="#000" stroke="#000" stroke-width="0.28">L</text>
<text transform="translate(1176.20,118.40) scale(1.23,1)" font-size="14.4" fill="#000" stroke="#000" stroke-width="0.28">y</text>
<text transform="translate(1185.22,125.40) scale(1.23,1)" font-size="12.0" fill="#000" stroke="#000" stroke-width="0.28">H</text>
<text transform="translate(225.99,736.40) scale(1.2576,1)" font-size="23.0" fill="#000" stroke="#000" stroke-width="0.28">Fatality count against opinion spread rate in the oldest group</text>
<text transform="translate(9.87,717.30) scale(0.97,1)" font-size="38.3" font-weight="bold" fill="#000">B</text>
<text transform="translate(61.89,1328.70) scale(1.23,1)" font-size="15.81" fill="#000" stroke="#000" stroke-width="0.28">0</text>
<text transform="translate(40.26,1260.26) scale(1.23,1)" font-size="15.81" fill="#000" stroke="#000" stroke-width="0.28">100</text>
<text transform="translate(40.26,1191.83) scale(1.23,1)" font-size="15.81" fill="#000" stroke="#000" stroke-width="0.28">200</text>
<text transform="translate(40.26,1123.39) scale(1.23,1)" font-size="15.81" fill="#000" stroke="#000" stroke-width="0.28">300</text>
<text transform="translate(40.26,1054.95) scale(1.23,1)" font-size="15.81" fill="#000" stroke="#000" stroke-width="0.28">400</text>
<text transform="translate(40.26,986.51) scale(1.23,1)" font-size="15.81" fill="#000" stroke="#000" stroke-width="0.28">500</text>
<text transform="translate(40.26,918.07) scale(1.23,1)" font-size="15.81" fill="#000" stroke="#000" stroke-width="0.28">600</text>
<text transform="translate(40.26,849.64) scale(1.23,1)" font-size="15.81" fill="#000" stroke="#000" stroke-width="0.28">700</text>
<text transform="translate(40.26,781.20) scale(1.23,1)" font-size="15.81" fill="#000" stroke="#000" stroke-width="0.28">800</text>
<text transform="translate(75.65,1345.50) scale(1.23,1)" font-size="15.81" fill="#000" stroke="#000" stroke-width="0.28">0</text>
<text transform="translate(144.17,1345.50) scale(1.23,1)" font-size="15.81" fill="#000" stroke="#000" stroke-width="0.28">0.5</text>
<text transform="translate(228.61,1345.50) scale(1.23,1)" font-size="15.81" fill="#000" stroke="#000" stroke-width="0.28">1</text>
<text transform="translate(297.03,1345.50) scale(1.23,1)" font-size="15.81" fill="#000" stroke="#000" stroke-width="0.28">1.5</text>
<text transform="translate(382.06,1345.50) scale(1.23,1)" font-size="15.81" fill="#000" stroke="#000" stroke-width="0.28">2</text>
<text transform="translate(186.27,769.30) scale(1.23,1)" font-size="17.381" font-weight="bold" fill="#000">Youngest</text>
<text transform="translate(139.15,1368.60) scale(1.23,1)" font-size="17.283" fill="#000" stroke="#000" stroke-width="0.28">Opinion spread rate</text>
<text transform="translate(143.74,1390.20) scale(1.23,1)" font-size="17.283" fill="#000" stroke="#000" stroke-width="0.28">in the oldest group</text>
<text transform="translate(29.00,1101.25) scale(1.23,1) rotate(-90)" font-size="17.283" fill="#000" stroke="#000" stroke-width="0.28">Fatality count</text>
<text transform="translate(349.27,1372.50) scale(1.23,1)" font-size="15.5" fill="#000" stroke="#000" stroke-width="0.28">10</text>
<text transform="translate(371.67,1364.80) scale(1.23,1)" font-size="12.8" fill="#000" stroke="#000" stroke-width="0.28">-9</text>
<text transform="translate(339.28,833.36) scale(1.23,1)" font-size="14.141" fill="#000" stroke="#000" stroke-width="0.28">y</text>
<text transform="translate(348.14,840.53) scale(1.23,1)" font-size="11.784" fill="#000" stroke="#000" stroke-width="0.28">L</text>
<text transform="translate(339.28,858.79) scale(1.23,1)" font-size="14.141" fill="#000" stroke="#000" stroke-width="0.28">y</text>
<text transform="translate(348.14,865.67) scale(1.23,1)" font-size="11.784" fill="#000" stroke="#000" stroke-width="0.28">H</text>
<text transform="translate(477.79,1328.70) scale(1.23,1)" font-size="15.81" fill="#000" stroke="#000" stroke-width="0.28">0</text>
<text transform="translate(456.16,1267.87) scale(1.23,1)" font-size="15.81" fill="#000" stroke="#000" stroke-width="0.28">100</text>
<text transform="translate(456.16,1207.03) scale(1.23,1)" font-size="15.81" fill="#000" stroke="#000" stroke-width="0.28">200</text>
<text transform="translate(456.16,1146.20) scale(1.23,1)" font-size="15.81" fill="#000" stroke="#000" stroke-width="0.28">300</text>
<text transform="translate(456.16,1085.37) scale(1.23,1)" font-size="15.81" fill="#000" stroke="#000" stroke-width="0.28">400</text>
<text transform="translate(456.16,1024.53) scale(1.23,1)" font-size="15.81" fill="#000" stroke="#000" stroke-width="0.28">500</text>
<text transform="translate(456.16,963.70) scale(1.23,1)" font-size="15.81" fill="#000" stroke="#000" stroke-width="0.28">600</text>
<text transform="translate(456.16,902.87) scale(1.23,1)" font-size="15.81" fill="#000" stroke="#000" stroke-width="0.28">700</text>
<text transform="translate(456.16,842.03) scale(1.23,1)" font-size="15.81" fill="#000" stroke="#000" stroke-width="0.28">800</text>
<text transform="translate(456.16,781.20) scale(1.23,1)" font-size="15.81" fill="#000" stroke="#000" stroke-width="0.28">900</text>
<text transform="translate(491.55,1345.50) scale(1.23,1)" font-size="15.81" fill="#000" stroke="#000" stroke-width="0.28">0</text>
<text transform="translate(560.27,1345.50) scale(1.23,1)" font-size="15.81" fill="#000" stroke="#000" stroke-width="0.28">0.5</text>
<text transform="translate(644.91,1345.50) scale(1.23,1)" font-size="15.81" fill="#000" stroke="#000" stroke-width="0.28">1</text>
<text transform="translate(713.53,1345.50) scale(1.23,1)" font-size="15.81" fill="#000" stroke="#000" stroke-width="0.28">1.5</text>
<text transform="translate(798.76,1345.50) scale(1.23,1)" font-size="15.81" fill="#000" stroke="#000" stroke-width="0.28">2</text>
<text transform="translate(594.95,769.30) scale(1.23,1)" font-size="17.381" font-weight="bold" fill="#000">Middle age</text>
<text transform="translate(555.45,1368.60) scale(1.23,1)" font-size="17.283" fill="#000" stroke="#000" stroke-width="0.28">Opinion spread rate</text>
<text transform="translate(560.04,1390.20) scale(1.23,1)" font-size="17.283" fill="#000" stroke="#000" stroke-width="0.28">in the oldest group</text>
<text transform="translate(444.90,1101.25) scale(1.23,1) rotate(-90)" font-size="17.283" fill="#000" stroke="#000" stroke-width="0.28">Fatality count</text>
<text transform="translate(765.97,1372.50) scale(1.23,1)" font-size="15.5" fill="#000" stroke="#000" stroke-width="0.28">10</text>
<text transform="translate(788.37,1364.80) scale(1.23,1)" font-size="12.8" fill="#000" stroke="#000" stroke-width="0.28">-9</text>
<text transform="translate(748.38,862.86) scale(1.23,1)" font-size="14.141" fill="#000" stroke="#000" stroke-width="0.28">y</text>
<text transform="translate(757.24,870.03) scale(1.23,1)" font-size="11.784" fill="#000" stroke="#000" stroke-width="0.28">L</text>
<text transform="translate(748.38,888.29) scale(1.23,1)" font-size="14.141" fill="#000" stroke="#000" stroke-width="0.28">y</text>
<text transform="translate(757.24,895.17) scale(1.23,1)" font-size="11.784" fill="#000" stroke="#000" stroke-width="0.28">H</text>
<text transform="translate(893.89,1328.70) scale(1.23,1)" font-size="15.81" fill="#000" stroke="#000" stroke-width="0.28">0</text>
<text transform="translate(861.44,1237.45) scale(1.23,1)" font-size="15.81" fill="#000" stroke="#000" stroke-width="0.28">2000</text>
<text transform="translate(861.44,1146.20) scale(1.23,1)" font-size="15.81" fill="#000" stroke="#000" stroke-width="0.28">4000</text>
<text transform="translate(861.44,1054.95) scale(1.23,1)" font-size="15.81" fill="#000" stroke="#000" stroke-width="0.28">6000</text>
<text transform="translate(861.44,963.70) scale(1.23,1)" font-size="15.81" fill="#000" stroke="#000" stroke-width="0.28">8000</text>
<text transform="translate(850.63,872.45) scale(1.23,1)" font-size="15.81" fill="#000" stroke="#000" stroke-width="0.28">10000</text>
<text transform="translate(850.63,781.20) scale(1.23,1)" font-size="15.81" fill="#000" stroke="#000" stroke-width="0.28">12000</text>
<text transform="translate(907.65,1345.50) scale(1.23,1)" font-size="15.81" fill="#000" stroke="#000" stroke-width="0.28">0</text>
<text transform="translate(976.32,1345.50) scale(1.23,1)" font-size="15.81" fill="#000" stroke="#000" stroke-width="0.28">0.5</text>
<text transform="translate(1060.91,1345.50) scale(1.23,1)" font-size="15.81" fill="#000" stroke="#000" stroke-width="0.28">1</text>
<text transform="translate(1129.48,1345.50) scale(1.23,1)" font-size="15.81" fill="#000" stroke="#000" stroke-width="0.28">1.5</text>
<text transform="translate(1214.66,1345.50) scale(1.23,1)" font-size="15.81" fill="#000" stroke="#000" stroke-width="0.28">2</text>
<text transform="translate(1032.89,769.30) scale(1.23,1)" font-size="17.381" font-weight="bold" fill="#000">Oldest</text>
<text transform="translate(971.45,1368.60) scale(1.23,1)" font-size="17.283" fill="#000" stroke="#000" stroke-width="0.28">Opinion spread rate</text>
<text transform="translate(976.04,1390.20) scale(1.23,1)" font-size="17.283" fill="#000" stroke="#000" stroke-width="0.28">in the oldest group</text>
<text transform="translate(839.50,1101.25) scale(1.23,1) rotate(-90)" font-size="17.283" fill="#000" stroke="#000" stroke-width="0.28">Fatality count</text>
<text transform="translate(1181.87,1372.50) scale(1.23,1)" font-size="15.5" fill="#000" stroke="#000" stroke-width="0.28">10</text>
<text transform="translate(1204.27,1364.80) scale(1.23,1)" font-size="12.8" fill="#000" stroke="#000" stroke-width="0.28">-9</text>
<text transform="translate(1182.38,806.96) scale(1.23,1)" font-size="14.141" fill="#000" stroke="#000" stroke-width="0.28">y</text>
<text transform="translate(1191.24,814.13) scale(1.23,1)" font-size="11.784" fill="#000" stroke="#000" stroke-width="0.28">L</text>
<text transform="translate(1182.38,832.39) scale(1.23,1)" font-size="14.141" fill="#000" stroke="#000" stroke-width="0.28">y</text>
<text transform="translate(1191.24,839.27) scale(1.23,1)" font-size="11.784" fill="#000" stroke="#000" stroke-width="0.28">H</text>
<text transform="translate(357.32,1462.40) scale(1.241,1)" font-size="23.0" fill="#000" stroke="#000" stroke-width="0.28">Fatality count against opinion spread rate</text>
<text transform="translate(9.71,1470.20) scale(0.97,1)" font-size="38.3" font-weight="bold" fill="#000">C</text>
<text transform="translate(63.14,2017.90) scale(1.23,1)" font-size="15.569" fill="#000" stroke="#000" stroke-width="0.28">0</text>
<text transform="translate(41.84,1953.90) scale(1.23,1)" font-size="15.569" fill="#000" stroke="#000" stroke-width="0.28">100</text>
<text transform="translate(41.84,1889.90) scale(1.23,1)" font-size="15.569" fill="#000" stroke="#000" stroke-width="0.28">200</text>
<text transform="translate(41.84,1825.90) scale(1.23,1)" font-size="15.569" fill="#000" stroke="#000" stroke-width="0.28">300</text>
<text transform="translate(41.84,1761.90) scale(1.23,1)" font-size="15.569" fill="#000" stroke="#000" stroke-width="0.28">400</text>
<text transform="translate(41.84,1697.90) scale(1.23,1)" font-size="15.569" fill="#000" stroke="#000" stroke-width="0.28">500</text>
<text transform="translate(41.84,1633.90) scale(1.23,1)" font-size="15.569" fill="#000" stroke="#000" stroke-width="0.28">600</text>
<text transform="translate(41.84,1569.90) scale(1.23,1)" font-size="15.569" fill="#000" stroke="#000" stroke-width="0.28">700</text>
<text transform="translate(41.84,1505.90) scale(1.23,1)" font-size="15.569" fill="#000" stroke="#000" stroke-width="0.28">800</text>
<text transform="translate(76.83,2034.70) scale(1.23,1)" font-size="15.569" fill="#000" stroke="#000" stroke-width="0.28">0</text>
<text transform="translate(145.82,2034.70) scale(1.23,1)" font-size="15.569" fill="#000" stroke="#000" stroke-width="0.28">0.5</text>
<text transform="translate(230.50,2034.70) scale(1.23,1)" font-size="15.569" fill="#000" stroke="#000" stroke-width="0.28">1</text>
<text transform="translate(299.39,2034.70) scale(1.23,1)" font-size="15.569" fill="#000" stroke="#000" stroke-width="0.28">1.5</text>
<text transform="translate(384.64,2034.70) scale(1.23,1)" font-size="15.569" fill="#000" stroke="#000" stroke-width="0.28">2</text>
<text transform="translate(188.80,1494.00) scale(1.23,1)" font-size="17.116" font-weight="bold" fill="#000">Youngest</text>
<text transform="translate(142.38,2056.60) scale(1.23,1)" font-size="17.019" fill="#000" stroke="#000" stroke-width="0.28">Opinion spread rate</text>
<text transform="translate(176.50,2078.20) scale(1.23,1)" font-size="17.019" fill="#000" stroke="#000" stroke-width="0.28">in all groups</text>
<text transform="translate(30.20,1807.41) scale(1.23,1) rotate(-90)" font-size="17.019" fill="#000" stroke="#000" stroke-width="0.28">Fatality count</text>
<text transform="translate(351.87,2060.70) scale(1.23,1)" font-size="15.5" fill="#000" stroke="#000" stroke-width="0.28">10</text>
<text transform="translate(374.57,2053.00) scale(1.23,1)" font-size="12.8" fill="#000" stroke="#000" stroke-width="0.28">-9</text>
<text transform="translate(352.58,1531.17) scale(1.23,1)" font-size="13.925" fill="#000" stroke="#000" stroke-width="0.28">y</text>
<text transform="translate(361.31,1538.23) scale(1.23,1)" font-size="11.604" fill="#000" stroke="#000" stroke-width="0.28">L</text>
<text transform="translate(352.58,1556.22) scale(1.23,1)" font-size="13.925" fill="#000" stroke="#000" stroke-width="0.28">y</text>
<text transform="translate(361.31,1562.99) scale(1.23,1)" font-size="11.604" fill="#000" stroke="#000" stroke-width="0.28">H</text>
<text transform="translate(479.94,2017.90) scale(1.23,1)" font-size="15.569" fill="#000" stroke="#000" stroke-width="0.28">0</text>
<text transform="translate(458.64,1961.01) scale(1.23,1)" font-size="15.569" fill="#000" stroke="#000" stroke-width="0.28">100</text>
<text transform="translate(458.64,1904.12) scale(1.23,1)" font-size="15.569" fill="#000" stroke="#000" stroke-width="0.28">200</text>
<text transform="translate(458.64,1847.23) scale(1.23,1)" font-size="15.569" fill="#000" stroke="#000" stroke-width="0.28">300</text>
<text transform="translate(458.64,1790.34) scale(1.23,1)" font-size="15.569" fill="#000" stroke="#000" stroke-width="0.28">400</text>
<text transform="translate(458.64,1733.46) scale(1.23,1)" font-size="15.569" fill="#000" stroke="#000" stroke-width="0.28">500</text>
<text transform="translate(458.64,1676.57) scale(1.23,1)" font-size="15.569" fill="#000" stroke="#000" stroke-width="0.28">600</text>
<text transform="translate(458.64,1619.68) scale(1.23,1)" font-size="15.569" fill="#000" stroke="#000" stroke-width="0.28">700</text>
<text transform="translate(458.64,1562.79) scale(1.23,1)" font-size="15.569" fill="#000" stroke="#000" stroke-width="0.28">800</text>
<text transform="translate(458.64,1505.90) scale(1.23,1)" font-size="15.569" fill="#000" stroke="#000" stroke-width="0.28">900</text>
<text transform="translate(493.63,2034.70) scale(1.23,1)" font-size="15.569" fill="#000" stroke="#000" stroke-width="0.28">0</text>
<text transform="translate(562.70,2034.70) scale(1.23,1)" font-size="15.569" fill="#000" stroke="#000" stroke-width="0.28">0.5</text>
<text transform="translate(647.45,2034.70) scale(1.23,1)" font-size="15.569" fill="#000" stroke="#000" stroke-width="0.28">1</text>
<text transform="translate(716.42,2034.70) scale(1.23,1)" font-size="15.569" fill="#000" stroke="#000" stroke-width="0.28">1.5</text>
<text transform="translate(801.74,2034.70) scale(1.23,1)" font-size="15.569" fill="#000" stroke="#000" stroke-width="0.28">2</text>
<text transform="translate(598.25,1494.00) scale(1.23,1)" font-size="17.116" font-weight="bold" fill="#000">Middle age</text>
<text transform="translate(559.33,2056.60) scale(1.23,1)" font-size="17.019" fill="#000" stroke="#000" stroke-width="0.28">Opinion spread rate</text>
<text transform="translate(593.45,2078.20) scale(1.23,1)" font-size="17.019" fill="#000" stroke="#000" stroke-width="0.28">in all groups</text>
<text transform="translate(447.00,1807.41) scale(1.23,1) rotate(-90)" font-size="17.019" fill="#000" stroke="#000" stroke-width="0.28">Fatality count</text>
<text transform="translate(768.97,2060.70) scale(1.23,1)" font-size="15.5" fill="#000" stroke="#000" stroke-width="0.28">10</text>
<text transform="translate(791.67,2053.00) scale(1.23,1)" font-size="12.8" fill="#000" stroke="#000" stroke-width="0.28">-9</text>
<text transform="translate(768.98,1531.17) scale(1.23,1)" font-size="13.925" fill="#000" stroke="#000" stroke-width="0.28">y</text>
<text transform="translate(777.71,1538.23) scale(1.23,1)" font-size="11.604" fill="#000" stroke="#000" stroke-width="0.28">L</text>
<text transform="translate(768.98,1556.22) scale(1.23,1)" font-size="13.925" fill="#000" stroke="#000" stroke-width="0.28">y</text>
<text transform="translate(777.71,1562.99) scale(1.23,1)" font-size="11.604" fill="#000" stroke="#000" stroke-width="0.28">H</text>
<text transform="translate(895.24,2017.90) scale(1.23,1)" font-size="15.569" fill="#000" stroke="#000" stroke-width="0.28">0</text>
<text transform="translate(863.29,1932.57) scale(1.23,1)" font-size="15.569" fill="#000" stroke="#000" stroke-width="0.28">2000</text>
<text transform="translate(863.29,1847.23) scale(1.23,1)" font-size="15.569" fill="#000" stroke="#000" stroke-width="0.28">4000</text>
<text transform="translate(863.29,1761.90) scale(1.23,1)" font-size="15.569" fill="#000" stroke="#000" stroke-width="0.28">6000</text>
<text transform="translate(863.29,1676.57) scale(1.23,1)" font-size="15.569" fill="#000" stroke="#000" stroke-width="0.28">8000</text>
<text transform="translate(852.64,1591.23) scale(1.23,1)" font-size="15.569" fill="#000" stroke="#000" stroke-width="0.28">10000</text>
<text transform="translate(852.64,1505.90) scale(1.23,1)" font-size="15.569" fill="#000" stroke="#000" stroke-width="0.28">12000</text>
<text transform="translate(908.93,2034.70) scale(1.23,1)" font-size="15.569" fill="#000" stroke="#000" stroke-width="0.28">0</text>
<text transform="translate(978.05,2034.70) scale(1.23,1)" font-size="15.569" fill="#000" stroke="#000" stroke-width="0.28">0.5</text>
<text transform="translate(1062.85,2034.70) scale(1.23,1)" font-size="15.569" fill="#000" stroke="#000" stroke-width="0.28">1</text>
<text transform="translate(1131.87,2034.70) scale(1.23,1)" font-size="15.569" fill="#000" stroke="#000" stroke-width="0.28">1.5</text>
<text transform="translate(1217.24,2034.70) scale(1.23,1)" font-size="15.569" fill="#000" stroke="#000" stroke-width="0.28">2</text>
<text transform="translate(1035.25,1494.00) scale(1.23,1)" font-size="17.116" font-weight="bold" fill="#000">Oldest</text>
<text transform="translate(974.73,2056.60) scale(1.23,1)" font-size="17.019" fill="#000" stroke="#000" stroke-width="0.28">Opinion spread rate</text>
<text transform="translate(1008.85,2078.20) scale(1.23,1)" font-size="17.019" fill="#000" stroke="#000" stroke-width="0.28">in all groups</text>
<text transform="translate(840.80,1807.41) scale(1.23,1) rotate(-90)" font-size="17.019" fill="#000" stroke="#000" stroke-width="0.28">Fatality count</text>
<text transform="translate(1184.47,2060.70) scale(1.23,1)" font-size="15.5" fill="#000" stroke="#000" stroke-width="0.28">10</text>
<text transform="translate(1207.17,2053.00) scale(1.23,1)" font-size="12.8" fill="#000" stroke="#000" stroke-width="0.28">-9</text>
<text transform="translate(1184.68,1531.17) scale(1.23,1)" font-size="13.925" fill="#000" stroke="#000" stroke-width="0.28">y</text>
<text transform="translate(1193.41,1538.23) scale(1.23,1)" font-size="11.604" fill="#000" stroke="#000" stroke-width="0.28">L</text>
<text transform="translate(1184.68,1556.22) scale(1.23,1)" font-size="13.925" fill="#000" stroke="#000" stroke-width="0.28">y</text>
<text transform="translate(1193.41,1562.99) scale(1.23,1)" font-size="11.604" fill="#000" stroke="#000" stroke-width="0.28">H</text>
</g>
</svg></body></html>
